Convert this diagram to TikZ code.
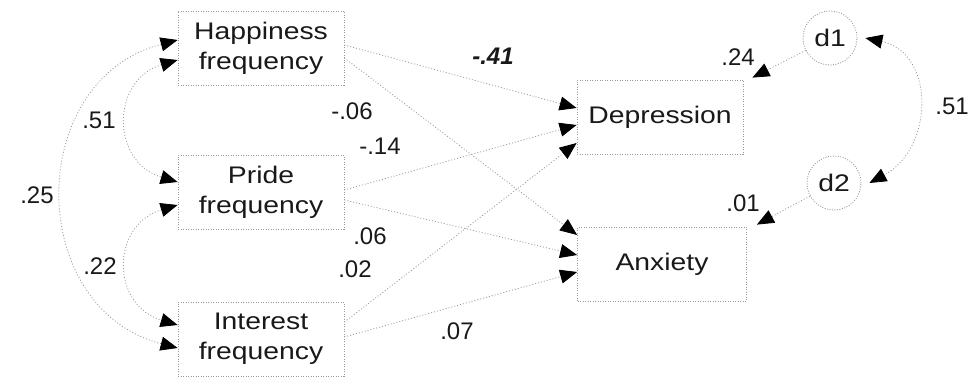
\documentclass[tikz,border=0pt]{standalone}
\usepackage{fontspec}
\setmainfont{Liberation Sans}
\newfontfamily\boxfont[FakeStretch=1.18]{Liberation Sans}
\usetikzlibrary{arrows.meta}

\begin{document}
\begin{tikzpicture}[
    x=1pt, y=-1pt,
    >={Triangle[length=17pt,width=14pt,color=black]},
    var box/.style={rectangle,draw=gray!80,dash pattern=on 1pt off 1.5pt,line width=0.8pt,minimum width=166pt,minimum height=74pt,inner sep=0pt,align=center,font=\boxfont\fontsize{24}{30}\selectfont,text=black!90},
    error node/.style={circle,draw=gray!80,dash pattern=on 1pt off 1.5pt,line width=0.8pt,minimum size=54pt,inner sep=0pt,font=\boxfont\fontsize{24}{30}\selectfont,text=black!90},
    path arrow/.style={->,gray!80,line width=0.8pt,dash pattern=on 1pt off 2pt},
    cov arrow/.style={<->,gray!80,line width=0.8pt,dash pattern=on 1pt off 2pt},
    coef/.style={font=\fontsize{24}{28}\selectfont,text=black!90,inner sep=0pt}
]
\useasboundingbox (0,0) rectangle (973,377);

% Variáveis exógenas
\node[var box] (hap) at (261,48) {Happiness\\frequency};
\node[var box] (pride) at (261,192) {Pride\\frequency};
\node[var box] (int) at (261,339) {Interest\\frequency};

% Variáveis endógenas
\node[var box] (dep) at (660,117) {Depression};
\node[var box,minimum width=169pt] (anx) at (662,264) {Anxiety};

% Erros
\node[error node] (d1) at (830,38) {d1};
\node[error node] (d2) at (834,183) {d2};

% Caminhos
\draw[path arrow] ([yshift=3pt]hap.east) -- ([yshift=9pt]dep.west);
\draw[path arrow] ([yshift=-10pt]hap.east) -- ([yshift=29pt]anx.west);
\draw[path arrow] ([yshift=2pt]pride.east) -- ([yshift=-8pt]dep.west);
\draw[path arrow] ([yshift=-8pt]pride.east) -- ([yshift=9pt]anx.west);
\draw[path arrow] ([yshift=17pt]int.east) -- ([yshift=-26pt]dep.west);
\draw[path arrow] ([yshift=2pt]int.east) -- ([yshift=-8pt]anx.west);
\draw[path arrow] (d1) -- ([xshift=9pt,yshift=2pt]dep.north east);
\draw[path arrow] (d2) -- ([xshift=10pt,yshift=2pt]anx.north east);

% Covariâncias
\draw[cov arrow] ([yshift=8pt]hap.west) .. controls +(-153,40) and +(-153,-40) .. ([yshift=-9pt]int.west);
\draw[cov arrow] ([yshift=-12pt]hap.west) .. controls +(-67,20) and +(-67,-20) .. ([yshift=10pt]pride.west);
\draw[cov arrow] ([yshift=-13pt]pride.west) .. controls +(-67,20) and +(-67,-20) .. ([yshift=14pt]int.west);
\draw[cov arrow] ([xshift=8pt]d1.east) .. controls +(70,15) and +(65,-35) .. ([xshift=8pt]d2.east);

% Coeficientes
\node[coef] (b1) at (493,56) {\bfseries\itshape -.41};
\node[coef] (b2) at (352,111) {-.06};
\node[coef] (b3) at (380,146) {-.14};
\node[coef] (b4) at (370,236) {.06};
\node[coef] (b5) at (355,269) {.02};
\node[coef] (b6) at (457,331) {.07};
\node[coef] (r1) at (99,120) {.51};
\node[coef] (r2) at (37,195) {.25};
\node[coef] (r3) at (100,266) {.22};
\node[coef] (e1) at (738,57) {.24};
\node[coef] (e2) at (743,203) {.01};
\node[coef] (e3) at (952,106) {.51};

\end{tikzpicture}
\end{document}
